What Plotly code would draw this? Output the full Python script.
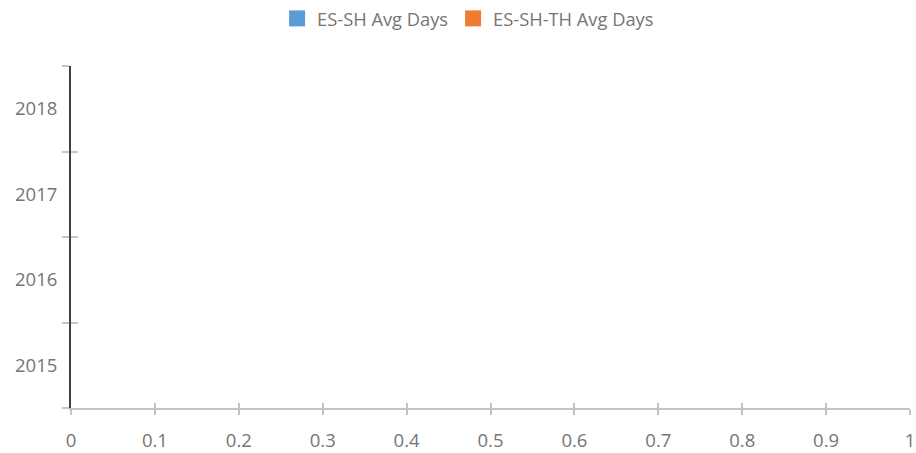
import plotly.graph_objects as go

years = ["2015", "2016", "2017", "2018"]
es_sh_avg_days = [None, None, None, None]
es_sh_th_avg_days = [None, None, None, None]
series_names = ["ES-SH Avg Days", "ES-SH-TH Avg Days"]
series_colors = ["#5B9BD5", "#ED7D31"]
x_ticks = [0, 0.1, 0.2, 0.3, 0.4, 0.5, 0.6, 0.7, 0.8, 0.9, 1]
x_tick_labels = ["0", "0.1", "0.2", "0.3", "0.4", "0.5", "0.6", "0.7", "0.8", "0.9", "1"]

FONT = "Open Sans"
TXT = "#757575"
GRID = "#c4c4c4"
TICK_SIZE = 18.5
LEG_SIZE = 18.3

fig = go.Figure()
for name, vals, col in zip(series_names, [es_sh_avg_days, es_sh_th_avg_days], series_colors):
    fig.add_trace(go.Bar(name=name, y=years, x=vals, orientation="h",
                         marker_color=col, showlegend=False))
    # legend proxy with a larger square swatch
    fig.add_trace(go.Scatter(name=name, x=[None], y=[None], mode="markers",
                             marker=dict(symbol="square", size=19, color=col),
                             showlegend=True, hoverinfo="skip"))
# invisible trace for overlay axes (inside ticks)
fig.add_trace(go.Bar(y=years, x=es_sh_avg_days, orientation="h", xaxis="x2", yaxis="y2",
                     showlegend=False, hoverinfo="skip"))

fig.update_layout(
    template="none",
    width=916, height=453,
    margin=dict(l=71, r=6, t=66, b=45, autoexpand=False),
    paper_bgcolor="white", plot_bgcolor="white",
    font=dict(family=FONT, size=18, color=TXT),
    barmode="group",
    legend=dict(orientation="h", x=0.511, xref="container", xanchor="center",
                y=1.0, yref="container", yanchor="top",
                font=dict(family=FONT, size=LEG_SIZE, color=TXT), itemsizing="trace",
                itemwidth=30, tracegroupgap=0),
    xaxis=dict(range=[0, 1], tickvals=x_ticks, ticktext=x_tick_labels, automargin=False,
               showgrid=False, zeroline=False, showline=True, linecolor=GRID, linewidth=2,
               ticks="outside", ticklen=5, tickwidth=1.5, tickcolor=GRID,
               ticklabeloverflow="allow", ticklabelstandoff=10,
               tickfont=dict(family=FONT, size=TICK_SIZE, color=TXT)),
    yaxis=dict(type="category", categoryorder="array", categoryarray=years, automargin=False,
               tickson="boundaries", showgrid=False, zeroline=False,
               showline=True, linecolor="#404040", linewidth=2,
               ticks="outside", ticklen=7, tickwidth=1.5, tickcolor=GRID,
               ticklabelstandoff=8,
               tickfont=dict(family=FONT, size=TICK_SIZE, color=TXT)),
    xaxis2=dict(overlaying="x", range=[0, 1], tickvals=x_ticks, showticklabels=False,
                showgrid=False, zeroline=False, showline=False, automargin=False,
                ticks="inside", ticklen=5, tickwidth=1.5, tickcolor=GRID, side="bottom"),
    yaxis2=dict(overlaying="y", type="category", categoryorder="array", categoryarray=years,
                tickson="boundaries", showticklabels=False, showgrid=False, zeroline=False,
                showline=False, automargin=False, ticks="inside", ticklen=7, tickwidth=1.5,
                tickcolor=GRID, side="left"),
)

fig.write_html("out.html", config={"displayModeBar": False},
               post_script="document.body.style.margin='0';")
